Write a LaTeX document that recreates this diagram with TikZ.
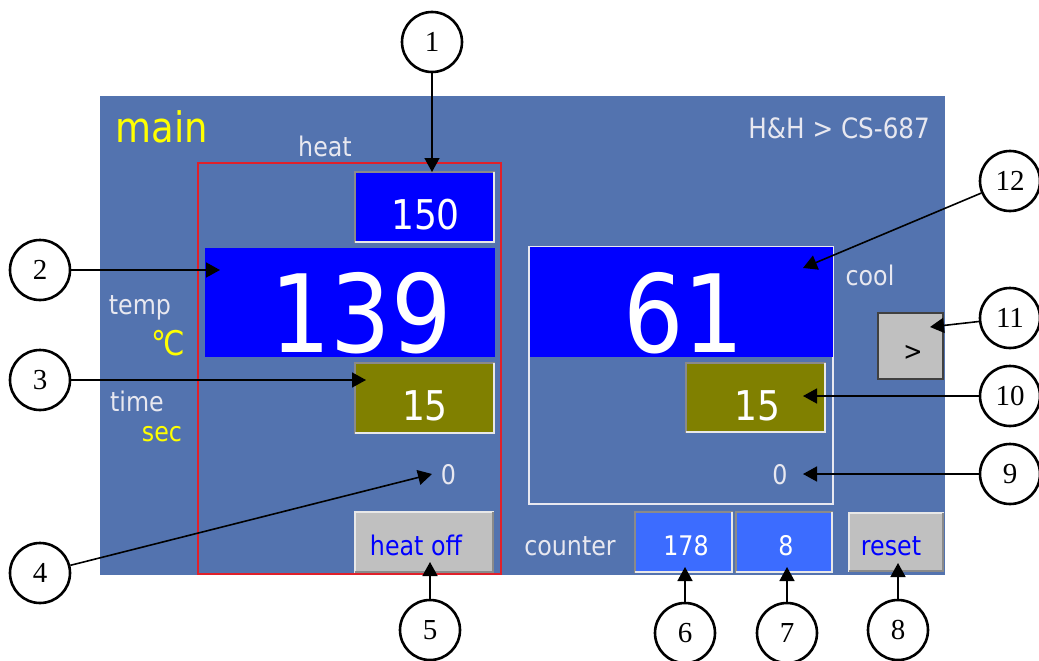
\documentclass[tikz,border=0pt]{standalone}
\usepackage{fontspec}
\setmainfont{Liberation Serif}
\newfontfamily\ui{DejaVu Sans}[FakeStretch=0.88]
\newfontfamily\tms{Liberation Serif}
\usetikzlibrary{arrows.meta,calc}
\definecolor{panel}{HTML}{5373AF}
\definecolor{scrblue}{HTML}{0000FF}
\definecolor{oliv}{HTML}{808000}
\definecolor{cntblue}{HTML}{3C6CFF}
\definecolor{btngray}{HTML}{C0C0C0}
\definecolor{bevdark}{HTML}{8A8A8A}
\definecolor{bevlight}{HTML}{E8E8E8}
\definecolor{lab}{HTML}{E8E8F0}
\definecolor{ylw}{HTML}{FFFF00}
\definecolor{redline}{HTML}{E0202A}
\newcommand\sunkenedge[1]{\draw[line width=2pt,bevlight] (#1.south west) -| (#1.north east);}
\newcommand\raisededge[1]{\draw[line width=2pt,bevdark] (#1.south west) -| (#1.north east);}
\begin{document}
\begin{tikzpicture}[x=1pt,y=-1pt,
  rect/.style={rectangle,inner sep=0pt,outer sep=0pt},
  sunk/.style={rect,draw=bevdark,line width=2pt},
  raised/.style={rect,draw=bevlight,line width=2pt,fill=btngray},
  txt/.style={font=\ui\fontsize{27}{27}\selectfont,text=lab,inner sep=0pt,anchor=base},
  callout/.style={circle,draw,line width=2.6pt,minimum size=60pt,inner sep=0pt,fill=white,font=\tms\fontsize{29}{29}\selectfont},
  arr/.style={line width=1.6pt,-{Triangle[length=14pt,width=15pt]}}]
\path[use as bounding box] (0,0) rectangle (1039,661);
% panel
\node[rect,fill=panel,minimum width=845pt,minimum height=479pt] (panel) at (522.5,335.5) {};
\node[rect,draw=redline,line width=1.5pt,minimum width=303pt,minimum height=411pt] (heatframe) at (349.5,368.5) {};
\node[rect,draw=lab,line width=1.5pt,minimum width=304pt,minimum height=257pt] (coolframe) at (681,375.5) {};
% boxes
\node[sunk,fill=scrblue,minimum width=139pt,minimum height=70pt] (b150) at (424.5,207) {};
\sunkenedge{b150}
\node[rect,fill=scrblue,minimum width=290pt,minimum height=109pt] (b139) at (350,302.5) {};
\node[sunk,fill=oliv,minimum width=139pt,minimum height=70pt] (bt15) at (424.5,398) {};
\sunkenedge{bt15}
\node[raised,minimum width=138pt,minimum height=60pt] (hoff) at (424,542) {};
\raisededge{hoff}
\node[rect,fill=scrblue,minimum width=303pt,minimum height=110pt] (b61) at (681.5,302) {};
\node[sunk,fill=oliv,minimum width=139pt,minimum height=69pt] (ct15) at (755.5,397.5) {};
\sunkenedge{ct15}
\node[rect,fill=btngray,draw=black!75,line width=1.5pt,minimum width=65pt,minimum height=66pt] (gtb) at (910.5,346) {};
\node[sunk,fill=cntblue,minimum width=97pt,minimum height=60pt] (c178) at (683.5,542) {};
\sunkenedge{c178}
\node[sunk,fill=cntblue,minimum width=96pt,minimum height=60pt] (c8b) at (784,542) {};
\sunkenedge{c8b}
\node[raised,minimum width=94pt,minimum height=58pt] (rst) at (896,542) {};
\raisededge{rst}
% texts
\node[txt,text=ylw,font=\ui\fontsize{42}{42}\selectfont] (tmain) at (162,142) {main};
\node[txt] (theat) at (325,156) {heat};
\node[txt,anchor=base east,font=\ui\fontsize{28}{28}\selectfont] (thh) at (930,138) {H\&H > CS-687};
\node[txt] (ttemp) at (140,314) {temp};
\node[txt,text=ylw,font=\ui\fontsize{34}{34}\selectfont] (tdeg) at (168,355) {℃};
\node[txt] (ttime) at (137,411) {time};
\node[txt,text=ylw] (tsec) at (162,441) {sec};
\node[txt,text=white,font=\ui\fontsize{41}{41}\selectfont] (t150) at (425.5,229) {150};
\node[txt,text=white,font=\ui\fontsize{108}{108}\selectfont] (t139) at (361,352) {139};
\node[txt,text=white,font=\ui\fontsize{41}{41}\selectfont] (t15a) at (425,420) {15};
\node[txt] (tzero1) at (448.5,484) {0};
\node[txt,text=scrblue] (thoff) at (416,555) {heat off};
\node[txt,text=white,font=\ui\fontsize{108}{108}\selectfont] (t61) at (684,352) {61};
\node[txt] (tcool) at (870,285) {cool};
\node[txt,text=white,font=\ui\fontsize{41}{41}\selectfont] (t15b) at (757,420) {15};
\node[txt] (tzero2) at (780,484) {0};
\node[txt,text=black,font=\ui\fontsize{26}{26}\selectfont] (tgt) at (913,360) {>};
\node[txt] (tcounter) at (570,555) {counter};
\node[txt,text=white] (t178) at (686,555) {178};
\node[txt,text=white] (t8) at (786,555) {8};
\node[txt,text=scrblue] (treset) at (891,555) {reset};
% callouts
\node[callout] (n1) at (432,42) {1};
\node[callout] (n2) at (40,270) {2};
\node[callout] (n3) at (40,380) {3};
\node[callout] (n4) at (40,573) {4};
\node[callout] (n5) at (430,630) {5};
\node[callout] (n6) at (685,633) {6};
\node[callout] (n7) at (787,633) {7};
\node[callout] (n8) at (898,630) {8};
\node[callout] (n9) at (1010,474) {9};
\node[callout] (n10) at (1010,396) {10};
\node[callout] (n11) at (1010,318) {11};
\node[callout] (n12) at (1010,181) {12};
% arrow targets
\coordinate (a1) at (432,172);
\coordinate (a2) at (220,270);
\coordinate (a3) at (366,380);
\coordinate (a4) at (432,474);
\coordinate (a5) at (430,562);
\coordinate (a6) at (685,567);
\coordinate (a7) at (787,567);
\coordinate (a8) at (898,563);
\coordinate (a9) at (803,474);
\coordinate (a10) at (803,396);
\coordinate (a11) at (930,327);
\coordinate (a12) at (803,268);
\foreach \i in {1,...,12} {\draw[arr] (n\i) -- (a\i);}
\end{tikzpicture}
\end{document}
